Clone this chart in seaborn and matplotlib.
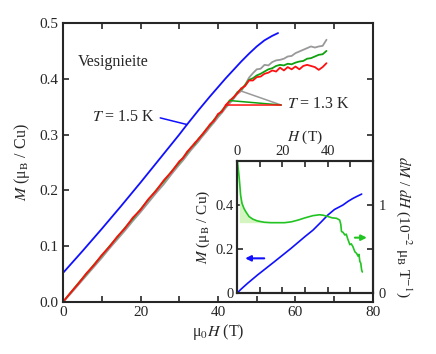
import numpy as np
import matplotlib
matplotlib.use("Agg")
import matplotlib.pyplot as plt
from matplotlib.ticker import MultipleLocator, FormatStrFormatter
import seaborn as sns

# --- main panel: magnetization curves ---
# T = 1.5 K (blue)
h_15 = [0, 5, 10, 15, 20, 25, 30, 32, 35, 38, 40, 42, 44, 46, 48, 50, 52, 54, 55.5]
m_15 = [0.052, 0.091, 0.131, 0.172, 0.214, 0.257, 0.300, 0.318, 0.344, 0.369, 0.385,
        0.401, 0.416, 0.431, 0.445, 0.458, 0.469, 0.477, 0.482]

# T = 1.3 K, three runs (gray, green, red)
h_13 = [0, 2, 4, 6, 8, 10, 12, 14, 16, 18, 20, 22, 24, 26, 28, 30,
        31, 32, 33, 34, 35, 36, 37, 38, 39, 40, 41, 42, 43, 44, 45, 46, 47, 48, 49,
        50, 51, 52, 53, 54, 55, 56, 57, 58, 59, 60, 61, 62, 63, 64, 65, 66, 67, 68]
m_red = [0.000, 0.017, 0.033, 0.051, 0.066, 0.084, 0.099, 0.117, 0.132, 0.151, 0.165,
         0.184, 0.199, 0.218, 0.233, 0.252,
         0.258, 0.269, 0.276, 0.285, 0.292, 0.301, 0.309, 0.319, 0.325, 0.337, 0.341,
         0.353, 0.360, 0.367, 0.374, 0.383, 0.387, 0.397, 0.397, 0.403, 0.404, 0.409,
         0.411, 0.415, 0.413, 0.420, 0.415, 0.421, 0.417, 0.422, 0.417, 0.423, 0.425,
         0.423, 0.421, 0.416, 0.421, 0.428]
m_green = [0.000, 0.017, 0.034, 0.050, 0.067, 0.083, 0.100, 0.116, 0.133, 0.149, 0.166,
           0.183, 0.200, 0.216, 0.234, 0.250,
           0.259, 0.267, 0.277, 0.283, 0.293, 0.300, 0.310, 0.317, 0.327, 0.335, 0.343,
           0.351, 0.361, 0.366, 0.376, 0.381, 0.389, 0.398, 0.401, 0.406, 0.409, 0.413,
           0.417, 0.419, 0.423, 0.425, 0.424, 0.427, 0.426, 0.429, 0.431, 0.432, 0.436,
           0.437, 0.440, 0.443, 0.444, 0.450]
m_gray = [0.000, 0.015, 0.031, 0.047, 0.063, 0.079, 0.096, 0.112, 0.128, 0.145, 0.161,
          0.178, 0.195, 0.211, 0.229, 0.246,
          0.254, 0.263, 0.272, 0.280, 0.288, 0.297, 0.305, 0.314, 0.322, 0.331, 0.339,
          0.348, 0.356, 0.364, 0.373, 0.378, 0.389, 0.402, 0.410, 0.417, 0.418, 0.425,
          0.424, 0.430, 0.433, 0.434, 0.436, 0.440, 0.441, 0.446, 0.449, 0.452, 0.455,
          0.458, 0.456, 0.458, 0.459, 0.470]

# --- inset: M(H) and dM/dH ---
h_in_m = [0, 2, 4.6, 9, 16.4, 23.8, 30, 33.5, 37, 40.1, 43, 46.7, 49, 51.1, 53, 55]
m_in = [0.0, 0.020, 0.044, 0.082, 0.142, 0.203, 0.257, 0.286, 0.322, 0.355, 0.380,
        0.400, 0.417, 0.430, 0.440, 0.450]

h_in_d = [0.2, 1.0, 1.6, 2.2, 3.1, 4.0, 5.3, 7, 9, 12, 15, 18, 21, 24, 27, 30, 33.5,
          36.4, 38, 40.1, 42, 43.9, 45.3, 45.8, 46.1, 46.8, 47.6, 48.2, 48.8, 49.8,
          50.4, 51.1, 52, 52.8, 53.4, 53.8, 54.2, 54.6, 55, 55.3]
dmdh = [1.50, 1.30, 1.11, 1.02, 0.96, 0.92, 0.87, 0.84, 0.82, 0.805, 0.80, 0.80, 0.80,
        0.81, 0.83, 0.855, 0.88, 0.89, 0.885, 0.87, 0.855, 0.85, 0.83, 0.78, 0.70,
        0.69, 0.66, 0.67, 0.62, 0.55, 0.56, 0.53, 0.47, 0.45, 0.42, 0.44, 0.36, 0.34,
        0.26, 0.24]
fill_base = 0.80

sns.set_style("ticks")
plt.rcParams['font.family'] = ['Liberation Serif', 'DejaVu Serif']
plt.rcParams['mathtext.fontset'] = 'stix'
plt.rcParams['axes.linewidth'] = 1.5

fig = plt.figure(figsize=(4.36, 3.54), dpi=100)
ax = fig.add_axes([0.1445, 0.147, 0.711, 0.788])

sns.lineplot(x=h_15, y=m_15, ax=ax, color='#1010ff', linewidth=1.3, estimator=None, sort=False)
sns.lineplot(x=h_13, y=m_gray, ax=ax, color='#999999', linewidth=1.3, estimator=None, sort=False)
sns.lineplot(x=h_13, y=m_green, ax=ax, color='#10a010', linewidth=1.3, estimator=None, sort=False)
sns.lineplot(x=h_13, y=m_red, ax=ax, color='#ff1010', linewidth=1.3, estimator=None, sort=False)

ax.set_xlim(0, 80)
ax.set_ylim(0, 0.5)
ax.xaxis.set_major_locator(MultipleLocator(20))
ax.xaxis.set_minor_locator(MultipleLocator(10))
ax.yaxis.set_major_locator(MultipleLocator(0.1))
ax.yaxis.set_major_formatter(FormatStrFormatter('%.1f'))
ax.tick_params(which='both', direction='in', top=True, right=True, length=4, width=1.2,
               labelsize=11, pad=3)
ax.set_xlabel(r"μ$_0H$ (T)", fontsize=11.5, labelpad=2)
ax.set_ylabel(r"$M$ (μ$_{\rm B}$ / Cu)", fontsize=11.5, labelpad=6)

ax.text(3.9, 0.43, "Vesignieite", fontsize=11.5, ha='left', va='center')

# T = 1.5 K label with leader to the blue curve
i15 = h_15.index(32)
ax.annotate(r"$T$ = 1.5 K", xy=(h_15[i15], m_15[i15]), xytext=(23.9, 0.332),
            fontsize=11.5, ha='right', va='center',
            arrowprops=dict(arrowstyle='-', color='#1010ff', lw=1.1, shrinkA=1, shrinkB=0,
                            relpos=(1, 0.5)))

# T = 1.3 K label with leaders to the three runs
ax.text(57.8, 0.355, r"$T$ = 1.3 K", fontsize=11.5, ha='left', va='center')
for hh, mm, c in [(46, m_gray, '#999999'), (43, m_green, '#10a010'), (42, m_red, '#ff1010')]:
    j = h_13.index(hh)
    ax.annotate("", xy=(h_13[j], mm[j]), xytext=(56.3, 0.353),
                arrowprops=dict(arrowstyle='-', color=c, lw=1.1, shrinkA=0, shrinkB=0))

# inset
axi = fig.add_axes([0.5436, 0.172, 0.3119, 0.373])
axi.set_facecolor('white')
axr = axi.twinx()

sns.lineplot(x=h_in_m, y=m_in, ax=axi, color='#1010ff', linewidth=1.2, estimator=None, sort=False)
h_d = np.array(h_in_d)
d_d = np.array(dmdh)
axr.fill_between(h_d, d_d, fill_base, where=(h_d >= 1.0) & (h_d <= 15),
                 color='#d4f5bf', linewidth=0)
sns.lineplot(x=h_in_d, y=dmdh, ax=axr, color='#22c422', linewidth=1.2, estimator=None, sort=False)

axi.set_xlim(0, 60)
axi.set_ylim(0, 0.6)
axr.set_ylim(0, 1.5)
axi.set_xticks([0, 20, 40, 60])
axi.set_xticklabels(['0', '20', '40', ''])
axi.xaxis.set_minor_locator(MultipleLocator(10))
axi.set_yticks([0, 0.2, 0.4])
axi.set_yticklabels(['0', '0.2', '0.4'])
axr.set_yticks([0, 1])
axr.set_yticklabels(['0', '1'])
axr.yaxis.set_minor_locator(MultipleLocator(0.5))
axi.tick_params(which='both', direction='in', top=True, bottom=True, labeltop=True,
                labelbottom=False, length=4, width=1.2, labelsize=10.5, pad=2)
axi.tick_params(axis='y', which='both', right=False)
axr.tick_params(which='both', direction='in', length=4, width=1.2, labelsize=10.5, pad=4)
axi.xaxis.set_label_position('top')
axi.set_xlabel(r"$H$ (T)", fontsize=11, labelpad=3)
axi.set_ylabel(r"$M$ (μ$_{\rm B}$ / Cu)", fontsize=11, labelpad=3)
axr.set_ylabel(r"$dM$ / $dH$ (10$^{-2}$ μ$_{\rm B}$ T$^{-1}$)", fontsize=11,
               rotation=270, labelpad=20)

axi.annotate("", xy=(3.6, 0.158), xytext=(12, 0.158),
             arrowprops=dict(arrowstyle='-|>', color='#1010ff', lw=1.5, mutation_scale=8,
                             shrinkA=0, shrinkB=0))
axr.annotate("", xy=(57.3, 0.63), xytext=(52, 0.63),
             arrowprops=dict(arrowstyle='-|>', color='#22c422', lw=1.5, mutation_scale=8,
                             shrinkA=0, shrinkB=0))

for a in (axi, axr):
    for s in a.spines.values():
        s.set_linewidth(1.5)

fig.savefig("out.png", dpi=100)
